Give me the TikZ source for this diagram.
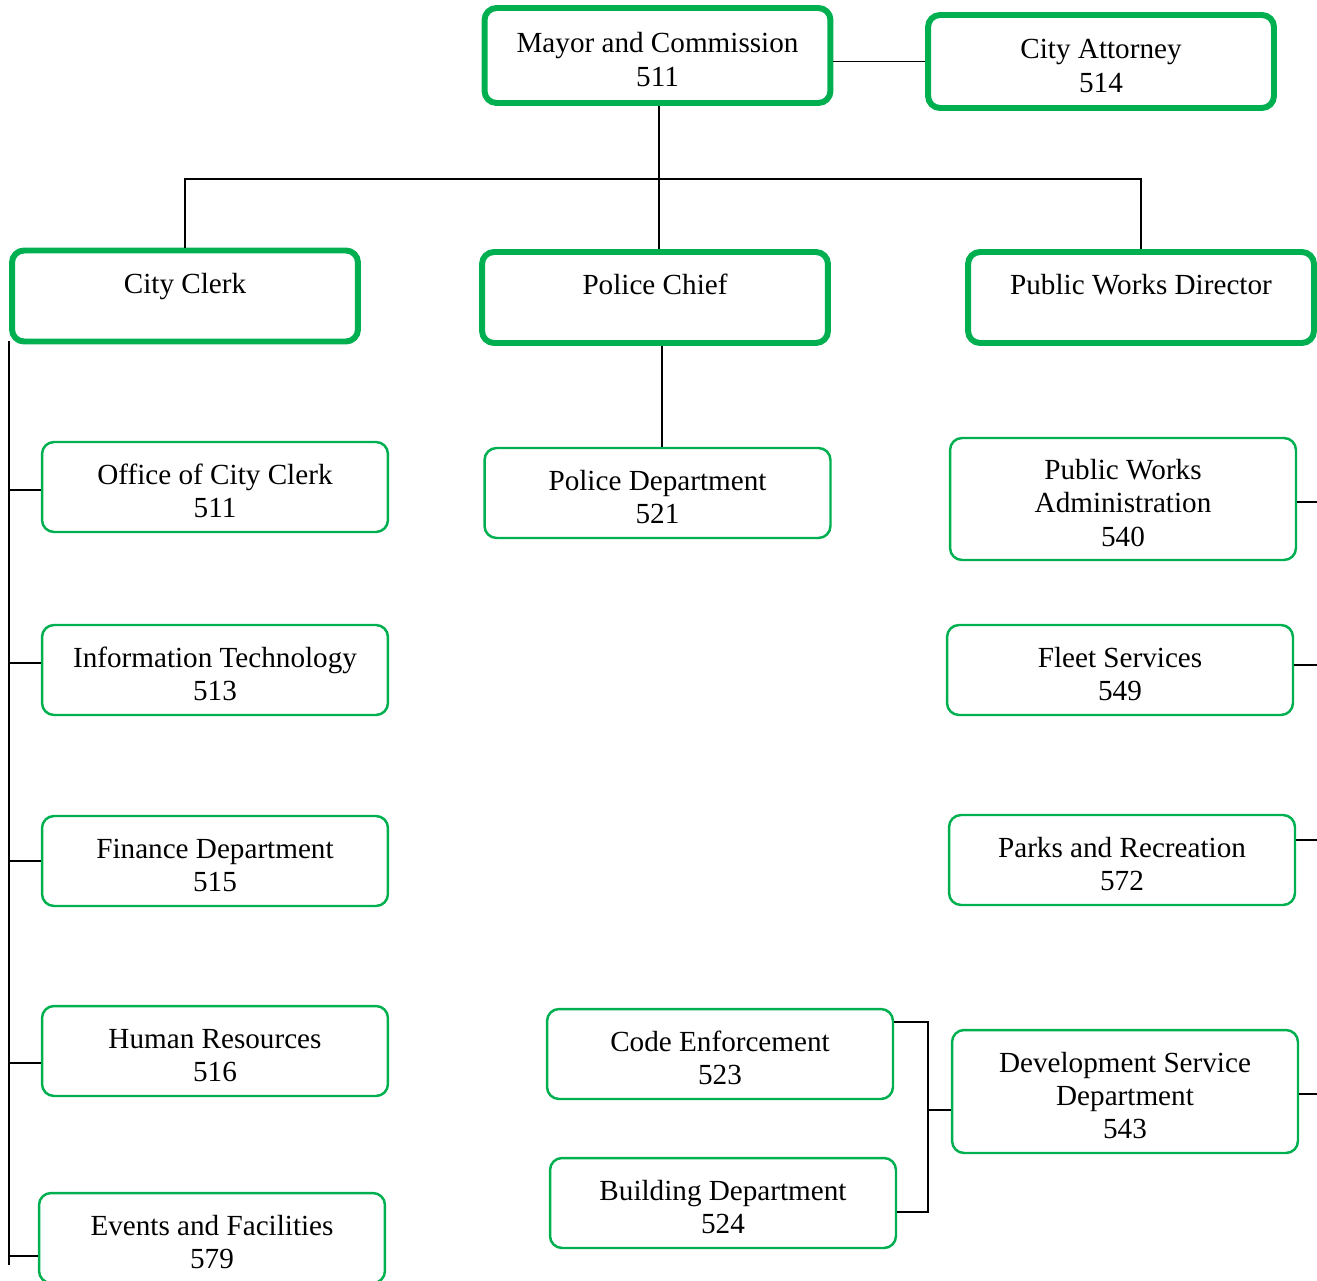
\documentclass[tikz,border=0pt]{standalone}
\usepackage{fontspec}
\setmainfont{Liberation Serif}
\usepackage{tikz}
\usetikzlibrary{positioning}
\definecolor{boxgreen}{HTML}{00B050}
\newcommand{\topgap}{\rule{0pt}{16pt}}
\tikzset{
  headbox/.style={draw=boxgreen, line width=3.4pt, rounded corners=2.4mm, align=center, minimum width=6.92cm, minimum height=1.82cm, inner sep=2pt},
  unitbox/.style={draw=boxgreen, line width=1.4pt, rounded corners=2.4mm, align=center, minimum width=6.92cm, minimum height=1.8cm, inner sep=2pt},
  link/.style={draw, line width=1.1pt}
}

\begin{document}
\begin{tikzpicture}[x=0.02cm, y=-0.02cm, font=\fontsize{16.6pt}{19pt}\selectfont]
  \useasboundingbox (0,0) rectangle (1317,1280);

  % top level
  \node[headbox, minimum height=1.9cm] (mayor) at (657.5,55.5) {\topgap Mayor and Commission\\511};
  \node[headbox, minimum height=1.86cm] (attorney) at (1101,61.5) {\topgap City Attorney\\514};
  \node[headbox] (clerk) at (185,296) {\topgap City Clerk\\\mbox{}};
  \node[headbox] (chief) at (655,297.5) {\topgap Police Chief\\\mbox{}};
  \node[headbox] (pwdir) at (1141,297.5) {\topgap Public Works Director\\\mbox{}};

  % clerk side
  \node[unitbox] (occ) at (215,487) {\topgap Office of City Clerk\\511};
  \node[unitbox] (itech) at (215,670) {\topgap Information Technology\\513};
  \node[unitbox] (fin) at (215,861) {\topgap Finance Department\\515};
  \node[unitbox] (hr) at (215,1051) {\topgap Human Resources\\516};
  \node[unitbox] (events) at (212,1238) {\topgap Events and Facilities\\579};

  % police
  \node[unitbox] (pd) at (657.5,493) {\topgap Police Department\\521};
  \node[unitbox] (code) at (720,1054) {\topgap Code Enforcement\\523};
  \node[unitbox] (bldg) at (723,1203) {\topgap Building Department\\524};

  % public works
  \node[unitbox, minimum height=2.44cm] (pwa) at (1123,499) {\topgap Public Works\\Administration\\540};
  \node[unitbox] (fleet) at (1120,670) {\topgap Fleet Services\\549};
  \node[unitbox] (parks) at (1122,860) {\topgap Parks and Recreation\\572};
  \node[unitbox, minimum height=2.46cm] (dev) at (1125,1091.5) {\topgap Development Service\\Department\\543};

  \coordinate (bus) at (659,179);
  \coordinate (spinetop) at (9,341);
  \coordinate (spinebot) at (9,1265);
  \coordinate (edge) at (1317,0);
  \coordinate (fork) at (928,1110);

  \draw[link] (attorney.west) -- (attorney.west -| mayor.east);
  \draw[link] (mayor.south -| bus) -- (bus |- chief.north);
  \draw[link] (clerk.north) |- (bus) -| (pwdir.north);
  \draw[link] ([xshift=0.14cm]chief.south) -- ([xshift=0.14cm]chief.south |- pd.north);

  \draw[link] (spinetop) -- (spinebot);
  \draw[link] ([yshift=-0.06cm]occ.west) -- ([yshift=-0.06cm]occ.west -| spinetop);
  \draw[link] ([yshift=0.14cm]itech.west) -- ([yshift=0.14cm]itech.west -| spinetop);
  \draw[link] (fin.west) -- (fin.west -| spinetop);
  \draw[link] ([yshift=-0.24cm]hr.west) -- ([yshift=-0.24cm]hr.west -| spinetop);
  \draw[link] ([yshift=-0.36cm]events.west) -- ([yshift=-0.36cm]events.west -| spinetop);

  \draw[link] ([yshift=-0.06cm]pwa.east) -- ([yshift=-0.06cm]pwa.east -| edge);
  \draw[link] ([yshift=0.1cm]fleet.east) -- ([yshift=0.1cm]fleet.east -| edge);
  \draw[link] ([yshift=0.4cm]parks.east) -- ([yshift=0.4cm]parks.east -| edge);
  \draw[link] ([yshift=-0.05cm]dev.east) -- ([yshift=-0.05cm]dev.east -| edge);

  \draw[link] ([yshift=0.64cm]code.east) -| (fork) |- ([yshift=-0.18cm]bldg.east);
  \draw[link] (fork) -- (fork -| dev.west);
\end{tikzpicture}
\end{document}
